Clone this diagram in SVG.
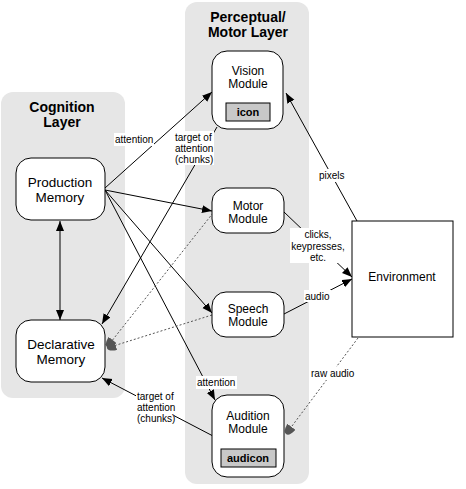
<svg xmlns="http://www.w3.org/2000/svg" width="466" height="489" viewBox="0 0 466 489">
<style>
.panel{fill:#e6e6e6;stroke:none}
.node{fill:#fff;stroke:#000;stroke-width:1}
.buf{fill:#c8c8c8;stroke:#000;stroke-width:1}
.title{font-family:"Liberation Sans",Arial,sans-serif;font-weight:bold;font-size:14px;text-anchor:middle;fill:#000}
.nt{font-family:"Liberation Sans",Arial,sans-serif;font-size:12px;text-anchor:middle;fill:#000}
.mt{font-family:"Liberation Sans",Arial,sans-serif;font-size:13.5px;text-anchor:middle;fill:#000}
.bt{font-family:"Liberation Sans",Arial,sans-serif;font-weight:bold;font-size:11px;text-anchor:middle;fill:#000}
.lbl{font-family:"Liberation Sans",Arial,sans-serif;font-size:10px;fill:#000}
.lbg{fill:#fff;stroke:none}
.c{stroke:#000;stroke-width:1;fill:none}
.d{stroke:#555;stroke-width:1;stroke-dasharray:2,2;fill:none}
</style>
<defs>
<marker id="ah" markerUnits="userSpaceOnUse" markerWidth="11" markerHeight="9" refX="10" refY="4" orient="auto-start-reverse">
<path d="M0,0 L10,4 L0,8 z" fill="#000"/>
</marker>
<marker id="ag" markerUnits="userSpaceOnUse" markerWidth="11" markerHeight="11" refX="9" refY="5" orient="auto">
<path d="M0,0 Q9,1 9,5 Q9,9 0,10 z" fill="#555"/>
</marker>
</defs>

<rect class="panel" x="1" y="92" width="124" height="306" rx="12"/>
<rect class="panel" x="185" y="2" width="124" height="482" rx="12"/>
<text class="title" x="62" y="112">Cognition</text>
<text class="title" x="62" y="127">Layer</text>
<text class="title" x="248" y="22">Perceptual/</text>
<text class="title" x="248" y="37">Motor Layer</text>

<g id="connectors">
<line class="c" x1="105" y1="188" x2="212" y2="92" marker-end="url(#ah)"/>
<line class="c" x1="217" y1="127" x2="102" y2="324" marker-end="url(#ah)"/>
<line class="c" x1="105" y1="190" x2="212" y2="211" marker-end="url(#ah)"/>
<line class="c" x1="105" y1="190" x2="212" y2="313" marker-end="url(#ah)"/>
<line class="c" x1="105" y1="190" x2="215" y2="400" marker-end="url(#ah)"/>
<line class="c" x1="60" y1="221" x2="60" y2="320" marker-start="url(#ah)" marker-end="url(#ah)"/>
<line class="d" x1="213" y1="213" x2="107" y2="347" marker-end="url(#ag)"/>
<line class="d" x1="212" y1="315" x2="107" y2="348" marker-end="url(#ag)"/>
<line class="c" x1="213" y1="436" x2="102" y2="378" marker-end="url(#ah)"/>
<line class="c" x1="357" y1="221" x2="286" y2="93" marker-end="url(#ah)"/>
<line class="c" x1="284" y1="212" x2="352" y2="277" marker-end="url(#ah)"/>
<line class="c" x1="284" y1="314" x2="352" y2="279" marker-end="url(#ah)"/>
<line class="d" x1="358" y1="338" x2="286" y2="434" marker-end="url(#ag)"/>

<rect class="lbg" x="114" y="133" width="40" height="13"/>
<text class="lbl" x="115" y="143">attention</text>
<rect class="lbg" x="174" y="131" width="40" height="34"/>
<text class="lbl" x="175" y="141">target of</text>
<text class="lbl" x="175" y="152">attention</text>
<text class="lbl" x="175" y="163">(chunks)</text>
<rect class="lbg" x="196" y="376" width="41" height="13"/>
<text class="lbl" x="197" y="386">attention</text>
<rect class="lbg" x="136" y="390" width="38" height="34"/>
<text class="lbl" x="137" y="400">target of</text>
<text class="lbl" x="137" y="411">attention</text>
<text class="lbl" x="137" y="422">(chunks)</text>
<rect class="lbg" x="318" y="169" width="27" height="13"/>
<text class="lbl" x="319" y="179">pixels</text>
<rect class="lbg" x="290" y="228" width="56" height="35"/>
<text class="lbl" x="318" y="238" text-anchor="middle">clicks,</text>
<text class="lbl" x="318" y="250" text-anchor="middle">keypresses,</text>
<text class="lbl" x="318" y="261" text-anchor="middle">etc.</text>
<rect class="lbg" x="304" y="290" width="27" height="12"/>
<text class="lbl" x="305" y="300">audio</text>
<rect class="lbg" x="310" y="367" width="46" height="13"/>
<text class="lbl" x="311" y="377">raw audio</text>
</g>

<g id="vision">
<rect class="node" x="212" y="51" width="71" height="78" rx="15"/>
<text class="nt" x="248" y="75">Vision</text>
<text class="nt" x="248" y="88">Module</text>
<rect class="buf" x="226" y="103" width="44" height="18"/>
<text class="bt" x="248" y="116">icon</text>
</g>
<g id="production">
<rect class="node" x="16" y="158" width="89" height="62" rx="15"/>
<text class="mt" x="60" y="187">Production</text>
<text class="mt" x="60" y="202">Memory</text>
</g>
<g id="motor">
<rect class="node" x="212" y="188" width="72" height="45" rx="14"/>
<text class="nt" x="248" y="210">Motor</text>
<text class="nt" x="248" y="223">Module</text>
</g>
<g id="speech">
<rect class="node" x="212" y="292" width="72" height="45" rx="14"/>
<text class="nt" x="248" y="313">Speech</text>
<text class="nt" x="248" y="326">Module</text>
</g>
<g id="declarative">
<rect class="node" x="16" y="320" width="89" height="62" rx="15"/>
<text class="mt" x="61" y="349">Declarative</text>
<text class="mt" x="61" y="364">Memory</text>
</g>
<g id="audition">
<rect class="node" x="212" y="395" width="72" height="82" rx="15"/>
<text class="nt" x="248" y="420">Audition</text>
<text class="nt" x="248" y="433">Module</text>
<rect class="buf" x="221" y="449" width="55" height="18"/>
<text class="bt" x="248" y="462">audicon</text>
</g>
<g id="environment">
<rect class="node" x="352" y="221" width="101" height="116"/>
<text class="nt" x="402" y="281">Environment</text>
</g>
</svg>
